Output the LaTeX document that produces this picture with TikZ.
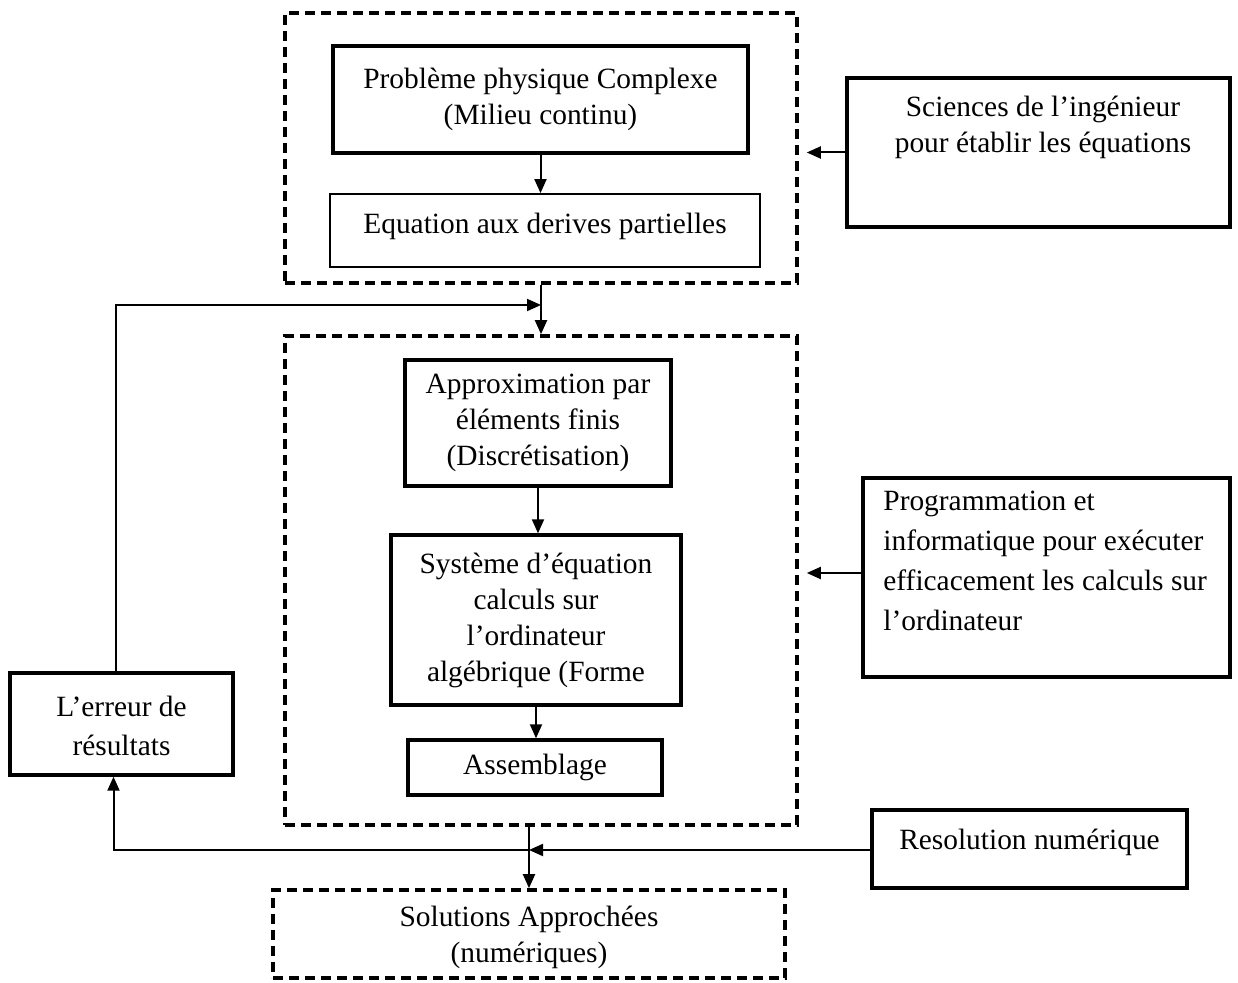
\documentclass[tikz,border=0pt]{standalone}
\usepackage{fontspec}
\setmainfont{Liberation Serif}
\usetikzlibrary{arrows.meta,calc}
\begin{document}
\begin{tikzpicture}[x=0.5pt,y=-0.5pt,
  every node/.style={font=\fontsize{14.7}{18}\selectfont, inner sep=0pt, align=center},
  thickbox/.style={draw, line width=1.7pt, rectangle},
  thinbox/.style={draw, line width=0.9pt, rectangle},
  dashbox/.style={draw, line width=1.8pt, dash pattern=on 5pt off 3pt, rectangle},
  arr/.style={line width=1pt, -{Triangle[length=7pt,width=6pt]}}]
\useasboundingbox (0,0) rectangle (1238,983);

% top group
\node[dashbox, minimum width=256pt, minimum height=135pt] (topdash) at (541,148) {};
\node[thickbox, minimum width=207.5pt, minimum height=53.5pt] (pb) at (540.5,99.5) {Problème physique Complexe\\(Milieu continu)};
\node[thinbox, minimum width=215pt, minimum height=36.5pt] (edp) at (545,230.5) {};
\node (edpt) at (545,226) {Equation aux derives partielles};

% sciences
\node[thickbox, minimum width=191.5pt, minimum height=74.5pt] (sci) at (1038.5,152.5) {};
\node (scit) at (1043,127) {Sciences de l’ingénieur\\pour établir les équations};

% middle group
\node[dashbox, minimum width=256pt, minimum height=244.5pt] (middash) at (541,580.5) {};
\node[thickbox, minimum width=133pt, minimum height=63pt] (approx) at (538,423) {Approximation par\\éléments finis\\(Discrétisation)};
\node[thickbox, minimum width=145pt, minimum height=85pt] (sys) at (536,620) {Système d’équation\\calculs sur\\l’ordinateur\\algébrique (Forme};
\node[thickbox, minimum width=127pt, minimum height=27.5pt] (ass) at (535,767.5) {Assemblage};

% programmation
\node[thickbox, minimum width=183.5pt, minimum height=99.5pt] (prog) at (1046.5,577.5) {};
\node[anchor=north west, align=left, font=\fontsize{14.7}{20}\selectfont] (progt) at (883,491) {Programmation et\\informatique pour exécuter\\efficacement les calculs sur\\l’ordinateur};

% erreur
\node[thickbox, minimum width=111.5pt, minimum height=51pt] (err) at (121.5,724) {};
\node[font=\fontsize{14.7}{19.5}\selectfont] (errt) at (121.5,726) {L’erreur de\\résultats};

% resolution
\node[thickbox, minimum width=157.5pt, minimum height=39pt] (res) at (1029.5,849) {};
\node (rest) at (1029.5,842) {Resolution numérique};

% solutions
\node[dashbox, minimum width=256pt, minimum height=44pt] (sol) at (529,934) {};
\node (solt) at (529,937) {Solutions Approchées\\(numériques)};

% connectors
\draw[arr] (pb.south) -- (pb.south |- edp.north);
\draw[arr] (sci.west) -- ([xshift=4pt]topdash.east |- sci.west);
\draw[arr] (prog.west |- 0,573) -- ([xshift=4pt]middash.east |- 0,573);
\draw[arr] (topdash.south) -- (middash.north);
\coordinate (fb) at (541,305);
\draw[arr] ([xshift=-3pt]err.north) |- (fb);
\draw[arr] (approx.south) -- (approx.south |- sys.north);
\draw[arr] (sys.south) -- (sys.south |- ass.north);
\draw[arr] (middash.south -| sol.north) -- (sol.north);
\coordinate (j) at (sol.north |- 0,850);
\draw[arr] (res.west |- j) -- (j);
\draw[arr] (j) -| ([xshift=-4pt]err.south);
\end{tikzpicture}
\end{document}
